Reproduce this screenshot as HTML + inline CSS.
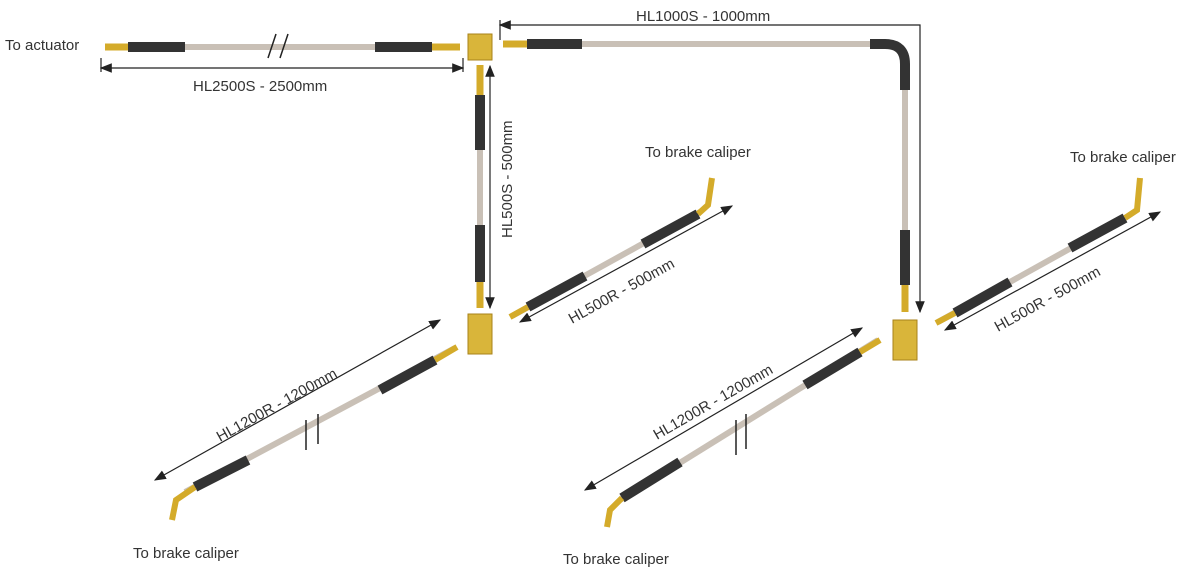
<!DOCTYPE html>
<html><head><style>body{margin:0;background:#fff}svg{display:block}text{font-family:"Liberation Sans",sans-serif;font-size:15px;fill:#333}</style></head><body>
<svg width="1200" height="578" viewBox="0 0 1200 578">
<defs>
<marker id="a" markerWidth="10" markerHeight="8" refX="9" refY="4" orient="auto-start-reverse"><path d="M0,0 L10,4 L0,8z" fill="#222"/></marker>
</defs>
<g stroke="#222" stroke-width="1.2" fill="none">
<path d="M101,68 H463" marker-start="url(#a)" marker-end="url(#a)"/>
<path d="M101,58 V72 M463,58 V72"/>
<path d="M490,66 V308" marker-start="url(#a)" marker-end="url(#a)"/>
<path d="M500,25 H920 V312" marker-start="url(#a)" marker-end="url(#a)"/>
<path d="M500,20 V40"/>
<path d="M520,322 L732,206" marker-start="url(#a)" marker-end="url(#a)"/>
<path d="M945,330 L1160,212" marker-start="url(#a)" marker-end="url(#a)"/>
<path d="M155,480 L440,320" marker-start="url(#a)" marker-end="url(#a)"/>
<path d="M585,490 L862,328" marker-start="url(#a)" marker-end="url(#a)"/>
</g>
<g fill="none" stroke-linecap="butt">
<path d="M110,47 H460" stroke="#c9c0b6" stroke-width="6"/>
<path d="M128,47 H185 M375,47 H432" stroke="#333" stroke-width="10"/>
<path d="M105,47 H128 M432,47 H460" stroke="#d4ab2a" stroke-width="7"/>
<path d="M268,58 L276,34 M280,58 L288,34" stroke="#222" stroke-width="1.5"/>
<path d="M480,65 V305" stroke="#c9c0b6" stroke-width="6"/>
<path d="M480,95 V150 M480,225 V282" stroke="#333" stroke-width="10"/>
<path d="M480,65 V95 M480,282 V308" stroke="#d4ab2a" stroke-width="7"/>
<path d="M505,44 H885 Q905,44 905,64 V300" stroke="#c9c0b6" stroke-width="6"/>
<path d="M527,44 H582 M870,44 H885 Q905,44 905,64 V90 M905,230 V285" stroke="#333" stroke-width="10"/>
<path d="M503,44 H527 M905,285 V312" stroke="#d4ab2a" stroke-width="7"/>
<path d="M512,316 L700,212" stroke="#c9c0b6" stroke-width="6"/>
<path d="M528,307 L585,276 M643,244 L698,214" stroke="#333" stroke-width="10"/>
<path d="M510,317 L528,307 M698,214 L708,205 L712,178" stroke="#d4ab2a" stroke-width="6"/>
<path d="M938,322 L1125,218" stroke="#c9c0b6" stroke-width="6"/>
<path d="M955,313 L1010,282 M1070,248 L1125,218" stroke="#333" stroke-width="10"/>
<path d="M936,323 L955,313 M1125,218 L1137,210 L1140,178" stroke="#d4ab2a" stroke-width="6"/>
<path d="M185,492 L455,348" stroke="#c9c0b6" stroke-width="6"/>
<path d="M195,487 L248,460 M380,390 L435,360" stroke="#333" stroke-width="10"/>
<path d="M172,520 L176,500 L195,487 M435,360 L457,347" stroke="#d4ab2a" stroke-width="6"/>
<path d="M306,420 V450 M318,414 V444" stroke="#222" stroke-width="1.5"/>
<path d="M620,500 L878,340" stroke="#c9c0b6" stroke-width="6"/>
<path d="M622,498 L680,462 M805,385 L860,352" stroke="#333" stroke-width="10"/>
<path d="M607,527 L610,510 L622,498 M860,352 L880,340" stroke="#d4ab2a" stroke-width="6"/>
<path d="M736,420 V455 M746,414 V449" stroke="#222" stroke-width="1.5"/>
</g>
<rect x="468" y="34" width="24" height="26" fill="#d9b53a" stroke="#a8821a"/>
<rect x="468" y="314" width="24" height="40" fill="#d9b53a" stroke="#a8821a"/>
<rect x="893" y="320" width="24" height="40" fill="#d9b53a" stroke="#a8821a"/>
<text x="5" y="50">To actuator</text>
<text x="193" y="91">HL2500S - 2500mm</text>
<text x="636" y="21">HL1000S - 1000mm</text>
<text transform="translate(512,238) rotate(-90)">HL500S - 500mm</text>
<text x="645" y="157" fill="#555">To brake caliper</text>
<text x="1070" y="162" fill="#555">To brake caliper</text>
<text x="133" y="558" fill="#555">To brake caliper</text>
<text x="563" y="564" fill="#555">To brake caliper</text>
<text transform="translate(572,324) rotate(-29)">HL500R - 500mm</text>
<text transform="translate(998,332) rotate(-29)">HL500R - 500mm</text>
<text transform="translate(220,442) rotate(-29)">HL1200R - 1200mm</text>
<text transform="translate(657,440) rotate(-30)">HL1200R - 1200mm</text>
</svg>
</body></html>
